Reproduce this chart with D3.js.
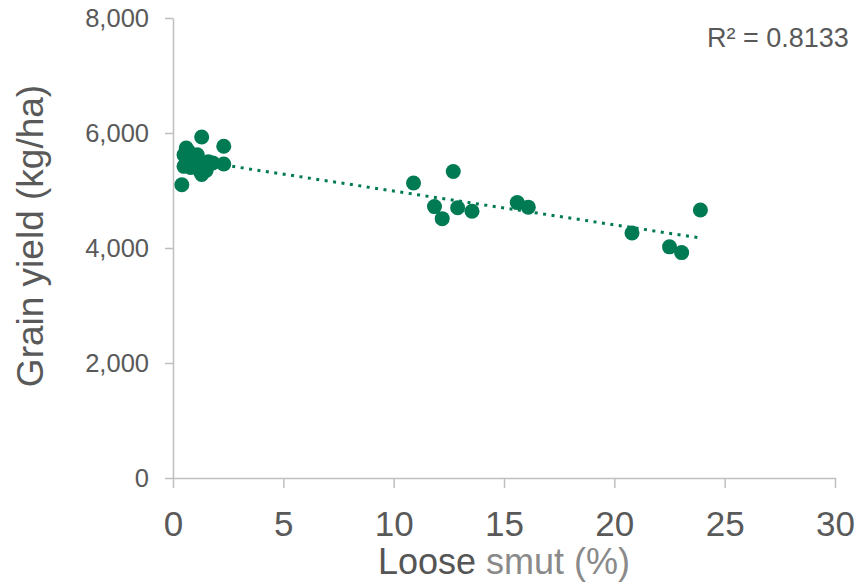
<!DOCTYPE html>
<html>
<head>
<meta charset="utf-8">
<script src="https://cdn.jsdelivr.net/npm/d3@7"></script>
<style>
  body { margin: 0; background: #fff; }
  svg text { font-family: "Liberation Sans", Arial, sans-serif; }
</style>
</head>
<body>
<svg id="chart" width="860" height="586"></svg>
<script>
// loose smut (%) and grain yield (kg/ha)
const smut = [0.4, 1.3, 2.3, 2.3, 0.5, 0.6, 0.7, 0.8, 0.9, 1.0, 1.1, 1.2, 1.3, 1.4, 1.6, 1.5, 0.5, 1.8,
    10.9, 12.7, 11.85, 12.2, 12.9, 13.55, 15.6, 16.1, 20.8, 22.5, 23.05, 23.9];
const grainYield = [5100, 5930, 5770, 5460, 5620, 5740, 5680, 5400, 5550, 5480, 5620, 5350, 5280, 5450, 5500, 5350, 5420, 5480,
    5130, 5330, 4720, 4510, 4700, 4640, 4790, 4710, 4260, 4020, 3920, 4660];
const xTicks = [0, 5, 10, 15, 20, 25, 30];
const yTicks = [0, 2000, 4000, 6000, 8000];
const rSquaredLabel = "R² = 0.8133";

const pointColor = "#007a53";
const axisColor = "#bfbfbf";
const labelColor = "#595959";

const data = smut.map((d, i) => ({ x: d, y: grainYield[i] }));

const svg = d3.select("#chart");
const margin = { top: 18, right: 25, bottom: 108, left: 173 };
const innerWidth = +svg.attr("width") - margin.left - margin.right;
const innerHeight = +svg.attr("height") - margin.top - margin.bottom;

const xScale = d3.scaleLinear().domain([0, 30]).range([0, innerWidth]);
const yScale = d3.scaleLinear().domain([0, 8000]).range([innerHeight, 0]);

const g = svg.append("g")
    .attr("transform", `translate(${margin.left},${margin.top})`);

// axes
const xAxis = g.append("g")
    .attr("transform", `translate(0,${innerHeight})`)
    .call(d3.axisBottom(xScale).tickValues(xTicks).tickSize(10).tickPadding(23).tickSizeOuter(0));
xAxis.selectAll("text")
    .attr("fill", labelColor)
    .style("font-size", "35px");

const yAxis = g.append("g")
    .call(d3.axisLeft(yScale).tickValues(yTicks).tickSize(8).tickPadding(16)
        .tickFormat(d3.format(",")).tickSizeOuter(0));
yAxis.selectAll("text")
    .attr("fill", labelColor)
    .attr("dy", "0.34em")
    .style("font-size", "25.5px");

g.selectAll(".domain, .tick line")
    .attr("stroke", axisColor)
    .attr("stroke-width", 1.5);

// points
g.selectAll(".pt")
    .data(data)
    .enter().append("circle")
    .attr("class", "pt")
    .attr("cx", d => xScale(d.x))
    .attr("cy", d => yScale(d.y))
    .attr("r", 7.5)
    .attr("fill", pointColor);

// linear trendline (least squares)
const mx = d3.mean(data, d => d.x);
const my = d3.mean(data, d => d.y);
const slope = d3.sum(data, d => (d.x - mx) * (d.y - my)) / d3.sum(data, d => (d.x - mx) ** 2);
const intercept = my - slope * mx;
const xExt = d3.extent(data, d => d.x);

g.append("line")
    .attr("x1", xScale(xExt[0]))
    .attr("y1", yScale(intercept + slope * xExt[0]))
    .attr("x2", xScale(xExt[1]))
    .attr("y2", yScale(intercept + slope * xExt[1]))
    .attr("stroke", pointColor)
    .attr("stroke-width", 3)
    .attr("stroke-dasharray", "3,5.5");

// R² label
svg.append("text")
    .attr("x", 707)
    .attr("y", 47)
    .attr("fill", labelColor)
    .style("font-size", "27px")
    .text(rSquaredLabel);

// axis titles
svg.append("text")
    .attr("transform", "translate(43,236) rotate(-90)")
    .attr("text-anchor", "middle")
    .attr("fill", labelColor)
    .style("font-size", "37px")
    .text("Grain yield (kg/ha)");

const xTitle = svg.append("text")
    .attr("x", margin.left + innerWidth / 2)
    .attr("y", 574)
    .attr("text-anchor", "middle")
    .style("font-size", "36px");
xTitle.append("tspan").attr("fill", "#555555").text("Loose");
xTitle.append("tspan").attr("fill", "#8a8a8a").text(" smut (%)");
</script>
</body>
</html>
